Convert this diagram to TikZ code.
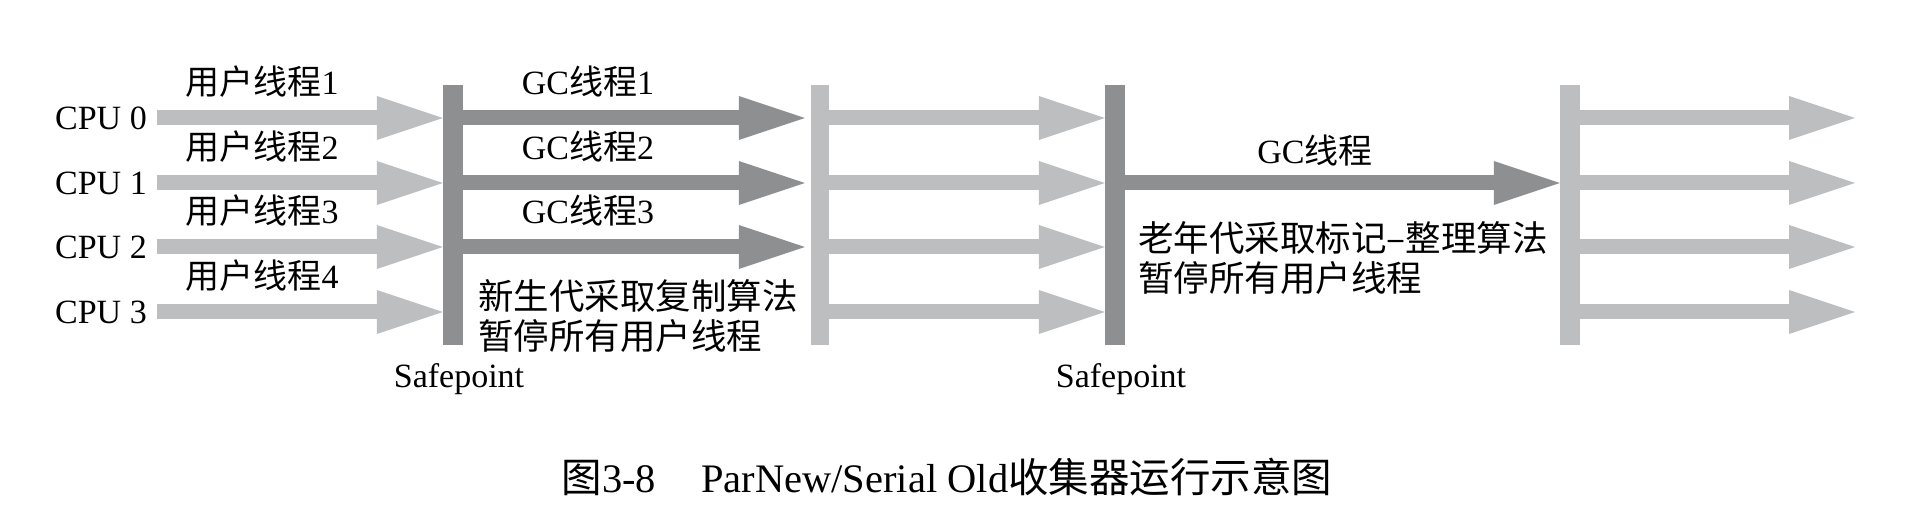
\documentclass[tikz,border=0pt]{standalone}
\usepackage{fontspec}
\setmainfont{Liberation Serif}
\newfontfamily\cjk{Noto Sans CJK SC}
\usetikzlibrary{arrows.meta}
\definecolor{threadlight}{HTML}{BDBEC0}
\definecolor{threaddark}{HTML}{8E8F91}

\begin{document}
\begin{tikzpicture}[x=1pt, y=1pt,
    lbl/.style={inner sep=0pt, font=\fontsize{34}{40}\selectfont},
    desc/.style={inner sep=0pt, align=left, font=\fontsize{35.5}{40}\selectfont\cjk},
    spbar/.style={inner sep=0pt, minimum width=20pt, minimum height=260pt},
    thread/.style={line width=15pt, -{Triangle[length=66pt, width=44pt, line width=0pt]}},
    userthread/.style={thread, threadlight},
    gcthread/.style={thread, threaddark}]
    \useasboundingbox (0,0) rectangle (1916,526);

    % Rows (one per CPU)
    \coordinate (r0) at (0,408);
    \coordinate (r1) at (0,343);
    \coordinate (r2) at (0,279);
    \coordinate (r3) at (0,214);

    % Safepoint bars
    \node[spbar, fill=threaddark] (sp1) at (453,311) {};
    \node[spbar, fill=threadlight, minimum width=18pt] (sp2) at (820,311) {};
    \node[spbar, fill=threaddark] (sp3) at (1115,311) {};
    \node[spbar, fill=threadlight] (sp4) at (1570,311) {};
    \node[lbl, anchor=base] (spl1) at (459,138) {Safepoint};
    \node[lbl, anchor=base] (spl2) at (1121,138) {Safepoint};

    % CPUs
    \node[lbl, anchor=base east] (cpu0) at (147,396) {CPU 0};
    \node[lbl, anchor=base east] (cpu1) at (147,331) {CPU 1};
    \node[lbl, anchor=base east] (cpu2) at (147,267) {CPU 2};
    \node[lbl, anchor=base east] (cpu3) at (147,202) {CPU 3};

    % User threads up to the first safepoint
    \draw[userthread] ([xshift=10pt]cpu0.east |- r0) -- (sp1.west |- r0);
    \draw[userthread] ([xshift=10pt]cpu1.east |- r1) -- (sp1.west |- r1);
    \draw[userthread] ([xshift=10pt]cpu2.east |- r2) -- (sp1.west |- r2);
    \draw[userthread] ([xshift=10pt]cpu3.east |- r3) -- (sp1.west |- r3);
    \node[lbl, anchor=base] (ut0) at (262,431) {{\cjk 用户线程}1};
    \node[lbl, anchor=base] (ut1) at (262,366) {{\cjk 用户线程}2};
    \node[lbl, anchor=base] (ut2) at (262,302) {{\cjk 用户线程}3};
    \node[lbl, anchor=base] (ut3) at (262,237) {{\cjk 用户线程}4};

    % ParNew: parallel GC threads
    \draw[gcthread, shorten >=6pt] (sp1.east |- r0) -- (sp2.west |- r0);
    \draw[gcthread, shorten >=6pt] (sp1.east |- r1) -- (sp2.west |- r1);
    \draw[gcthread, shorten >=6pt] (sp1.east |- r2) -- (sp2.west |- r2);
    \node[lbl, anchor=base] (gc0) at (588,431) {GC{\cjk 线程}1};
    \node[lbl, anchor=base] (gc1) at (588,366) {GC{\cjk 线程}2};
    \node[lbl, anchor=base] (gc2) at (588,302) {GC{\cjk 线程}3};
    \node[desc, anchor=west] (young) at (478,210) {新生代采取复制算法\\暂停所有用户线程};

    % User threads again
    \draw[userthread] (sp2.east |- r0) -- (sp3.west |- r0);
    \draw[userthread] (sp2.east |- r1) -- (sp3.west |- r1);
    \draw[userthread] (sp2.east |- r2) -- (sp3.west |- r2);
    \draw[userthread] (sp2.east |- r3) -- (sp3.west |- r3);

    % Serial Old: one GC thread
    \draw[gcthread] (sp3.east |- r1) -- (sp4.west |- r1);
    \node[lbl, anchor=base] (gcold) at (1315,362) {GC{\cjk 线程}};
    \node[desc, anchor=west] (old) at (1138,268) {老年代采取标记–整理算法\\暂停所有用户线程};

    % User threads after the second safepoint
    \coordinate (e0) at (1855,408);
    \coordinate (e1) at (1855,343);
    \coordinate (e2) at (1855,279);
    \coordinate (e3) at (1855,214);
    \draw[userthread] (sp4.east |- r0) -- (e0);
    \draw[userthread] (sp4.east |- r1) -- (e1);
    \draw[userthread] (sp4.east |- r2) -- (e2);
    \draw[userthread] (sp4.east |- r3) -- (e3);

    % Caption
    \node[inner sep=0pt, anchor=base, font=\fontsize{40.5}{48}\selectfont] (cap) at (947,33)
        {{\cjk 图}3-8\hspace{45pt}ParNew/Serial Old{\cjk 收集器运行示意图}};
\end{tikzpicture}
\end{document}
